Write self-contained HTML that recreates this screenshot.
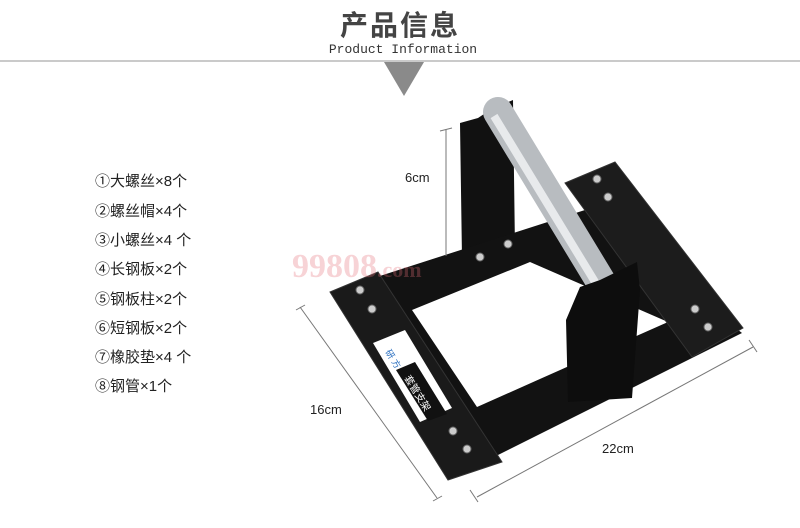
<!DOCTYPE html>
<html><head><meta charset="utf-8"><style>
body{margin:0;width:800px;height:528px;background:#fff;overflow:hidden;position:relative;font-family:"Liberation Sans","Noto Sans CJK SC",sans-serif}
.t{position:absolute;white-space:nowrap}
.li{position:absolute;left:95px;font-size:15px;color:#222}
</style></head><body>
<svg width="800" height="528" style="position:absolute;left:0;top:0">
<line x1="0" y1="61" x2="800" y2="61" stroke="#aaa" stroke-width="1.2"/>
<polygon points="384,62 424,62 404,96" fill="#8a8a8a"/>
<!-- back upright -->
<polygon points="460,123 478,118 490,110 513,100 515,250 480,262 462,258" fill="#111"/>
<!-- main plate -->
<polygon points="330,292 585,210 742,333 448,480" fill="#121212"/>
<polygon points="412,310 530,262 668,322 477,407" fill="#fff"/>
<!-- left strip -->
<polygon points="330,292 378,272 502,462 448,480" fill="#1a1a1a" stroke="#333"/>
<!-- right plate -->
<polygon points="565,183 615,162 743,328 692,357" fill="#1c1c1c" stroke="#333"/>
<!-- label -->
<polygon points="373,343 405,330 452,408 420,422" fill="#fff"/>
<polygon points="396,370 415,362 447,414 428,421" fill="#111"/>
<text x="385" y="352" font-size="9" fill="#2a6fc0" transform="rotate(58 385 352)">研 方</text>
<text x="404" y="378" font-size="10" fill="#fff" transform="rotate(58 404 378)">套管支架</text>
<!-- tube -->
<line x1="498" y1="112" x2="612" y2="300" stroke="#b8bcc0" stroke-width="30" stroke-linecap="round"/>
<line x1="494" y1="116" x2="606" y2="300" stroke="#e8eaec" stroke-width="8"/>
<!-- front upright -->
<polygon points="580,287 600,280 637,262 640,290 632,398 568,402 566,320" fill="#0d0d0d"/>
<!-- screws -->
<g fill="#ccc" stroke="#666">
<circle cx="360" cy="290" r="4"/><circle cx="372" cy="309" r="4"/>
<circle cx="453" cy="431" r="4"/><circle cx="467" cy="449" r="4"/>
<circle cx="597" cy="179" r="4"/><circle cx="608" cy="197" r="4"/>
<circle cx="695" cy="309" r="4"/><circle cx="708" cy="327" r="4"/>
<circle cx="480" cy="257" r="4"/><circle cx="508" cy="244" r="4"/>
</g>
<!-- dims -->
<g stroke="#777" stroke-width="1" fill="none">
<line x1="446" y1="130" x2="446" y2="256"/><line x1="440" y1="131" x2="452" y2="128"/>
<line x1="300" y1="307" x2="437" y2="498"/><line x1="296" y1="310" x2="305" y2="305"/><line x1="433" y1="501" x2="442" y2="496"/>
<line x1="477" y1="497" x2="753" y2="347"/><line x1="470" y1="490" x2="478" y2="502"/><line x1="749" y1="340" x2="757" y2="352"/>
</g>
</svg>
<div class="t" style="left:0;width:800px;text-align:center;top:4px;font-size:28px;color:#444;font-weight:bold;letter-spacing:2px">产品信息</div>
<div class="t" style="left:0;width:806px;text-align:center;top:42px;font-size:13px;color:#333;font-family:'Liberation Mono',monospace">Product Information</div>
<div class="t" style="left:292px;top:248px;font-size:34px;font-weight:bold;color:rgba(230,110,120,0.3);font-family:'Liberation Serif',serif">99808<span style="font-size:22px">.com</span></div>
<div class="t" style="left:405px;top:170px;font-size:13px;color:#222">6cm</div>
<div class="t" style="left:310px;top:402px;font-size:13px;color:#222">16cm</div>
<div class="t" style="left:602px;top:441px;font-size:13px;color:#222">22cm</div>
<div class="li" style="top:170px">①大螺丝×8个</div>
<div class="li" style="top:200px">②螺丝帽×4个</div>
<div class="li" style="top:229px">③小螺丝×4 个</div>
<div class="li" style="top:258px">④长钢板×2个</div>
<div class="li" style="top:288px">⑤钢板柱×2个</div>
<div class="li" style="top:317px">⑥短钢板×2个</div>
<div class="li" style="top:346px">⑦橡胶垫×4 个</div>
<div class="li" style="top:375px">⑧钢管×1个</div>
</body></html>
